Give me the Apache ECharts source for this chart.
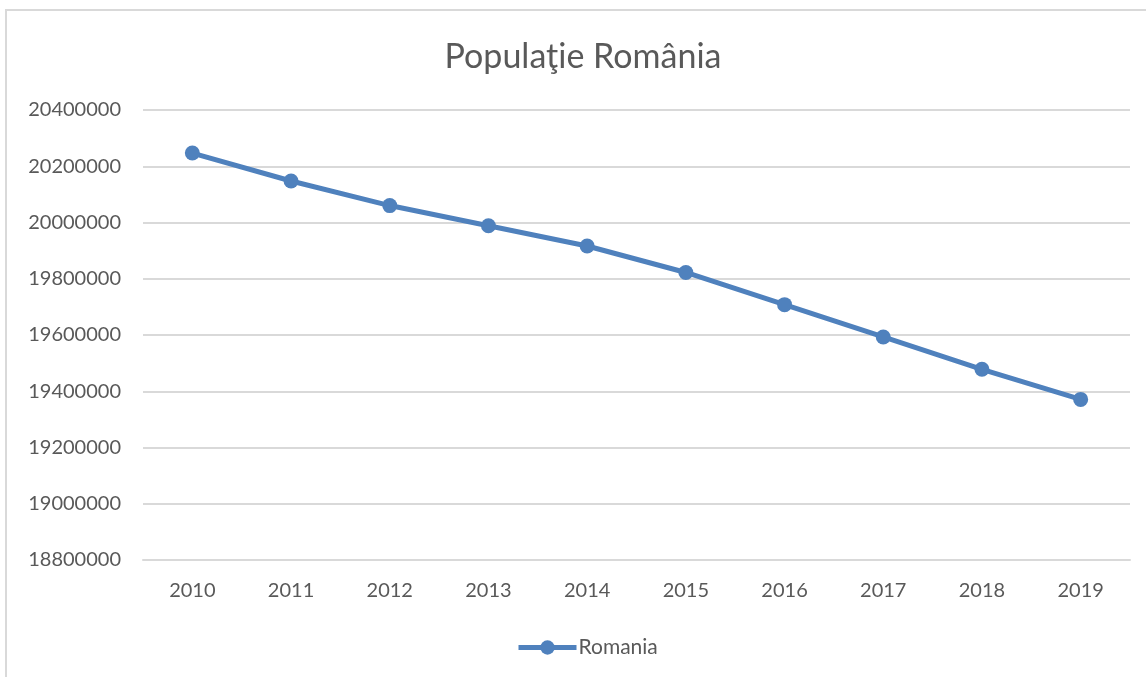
<!DOCTYPE html>
<html>
<head>
<meta charset="utf-8">
<title>Populaţie România</title>
<script src="https://cdn.jsdelivr.net/npm/echarts@6/dist/echarts.min.js"></script>
<style>
  html, body { margin: 0; padding: 0; background: #fff; }
  #chart { width: 1146px; height: 677px; }
</style>
</head>
<body>
<div id="chart"></div>
<script>
const years = ['2010', '2011', '2012', '2013', '2014', '2015', '2016', '2017', '2018', '2019']
const population = [20246871, 20147528, 20060182, 19988694, 19916451, 19822250, 19708000, 19593000, 19478000, 19371000]
const seriesName = 'Romania'
const chartTitle = 'Populaţie România'

const textColor = '#595959'
const lineColor = '#4F81BD'
const font = 'Lato'

const chart = echarts.init(document.getElementById('chart'))

const option = {
  animation: false,
  graphic: [
    {
      type: 'rect',
      shape: { x: 6, y: 10, width: 1200, height: 720 },
      style: { fill: 'none', stroke: '#d9d9d9', lineWidth: 2 },
      silent: true
    }
  ],
  title: {
    text: chartTitle,
    left: 578,
    top: 35,
    textAlign: 'center',
    textStyle: {
      color: textColor,
      fontFamily: font,
      fontWeight: 'normal',
      fontSize: 34
    }
  },
  legend: {
    data: [seriesName],
    left: 511,
    top: 632,
    itemWidth: 58,
    itemHeight: 18,
    itemGap: 0,
    lineStyle: { width: 5 },
    textStyle: { color: textColor, fontFamily: font, fontSize: 21, padding: [0, 0, 0, -3] }
  },
  grid: {
    left: 143,
    right: 16,
    top: 110,
    bottom: 117
  },
  xAxis: {
    type: 'category',
    data: years,
    boundaryGap: true,
    axisLine: { show: true, lineStyle: { color: '#d9d9d9', width: 2 } },
    axisTick: { show: false },
    axisLabel: { color: textColor, fontFamily: font, fontSize: 20, margin: 21 }
  },
  yAxis: {
    type: 'value',
    min: 18800000,
    max: 20400000,
    interval: 200000,
    axisLine: { show: false },
    axisTick: { show: false },
    axisLabel: {
      color: textColor,
      fontFamily: font,
      fontSize: 20,
      margin: 22,
      formatter: v => String(v)
    },
    splitLine: { lineStyle: { color: '#d9d9d9', width: 2 } }
  },
  series: [
    {
      name: seriesName,
      type: 'line',
      data: population,
      symbol: 'circle',
      symbolSize: 15,
      lineStyle: { color: lineColor, width: 5 },
      itemStyle: { color: lineColor }
    }
  ]
}

chart.setOption(option)
</script>
</body>
</html>
